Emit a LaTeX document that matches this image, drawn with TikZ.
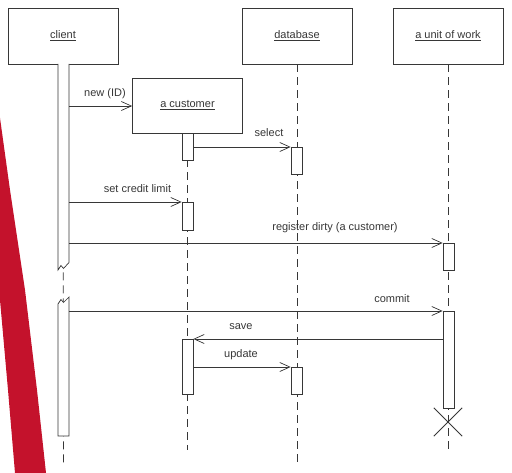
\documentclass[tikz,border=0pt]{standalone}
\usepackage{fontspec}
\setmainfont{Liberation Sans}
\usetikzlibrary{arrows.meta}
\definecolor{ribbon}{RGB}{196,18,44}
\definecolor{inkc}{RGB}{55,55,55}
\begin{document}
\begin{tikzpicture}[x=1pt,y=-1pt,
  ink/.style={draw=inkc, line width=0.7pt},
  objbox/.style={ink, fill=white, minimum width=110pt, minimum height=56pt, inner sep=0pt,
    font=\fontsize{11}{13}\selectfont, text=inkc},
  actbar/.style={ink, fill=white, minimum width=11pt, inner sep=0pt, anchor=north},
  lifeline/.style={draw=inkc, line width=0.7pt, dash pattern=on 8pt off 5pt},
  msg/.style={ink, -{Straight Barb[length=10pt,width=9pt]}},
  lbl/.style={font=\fontsize{11}{13}\selectfont, text=inkc, inner sep=0pt, anchor=base},
]
\useasboundingbox (0,0) rectangle (512,473);
% red ribbon (scan artefact)
\fill[ribbon] (0,118) -- (10,190) -- (25,290) -- (37,390) -- (46,473) -- (15,473) -- (8,390) -- (0,300) -- cycle;

% object boxes
\node[objbox] (client) at (63,36) {\underline{client}};
\node[objbox] (db) at (297,36) {\underline{database}};
\node[objbox] (uow) at (448,36) {\underline{a unit of work}};
\node[objbox, minimum height=55pt] (cust) at (187.5,105.5) {\underline{a customer}};

% lifeline ends
\coordinate (clientend) at (63.5,463);
\coordinate (custend) at (187.5,450);
\coordinate (dbend) at (297,463);
\coordinate (uowend) at (448,450);

% lifelines
\draw[lifeline] (client.south) -- (clientend);
\draw[lifeline, line width=1.3pt] (cust.south) -- (custend);
\draw[lifeline] (db.south) -- (dbend);
\draw[lifeline] (uow.south) -- (uowend);

% client activation bars (with break marks)
\filldraw[ink, fill=white] (58,64) -- (58,270) -- (61,265.5) -- (63.5,268.5) -- (69,262.5) -- (69,64);
\filldraw[ink, fill=white] (58,436) -- (58,304) -- (61,299.5) -- (63.5,302.5) -- (69,297) -- (69,436) -- cycle;
\coordinate (cb) at (69,0);

% other activation bars
\node[actbar, minimum height=27pt] (cA1) at (187.5,133) {};
\node[actbar, minimum height=28pt] (cA2) at (187.5,202) {};
\node[actbar, minimum height=55pt] (cA3) at (187.5,339) {};
\node[actbar, minimum height=27pt] (dA1) at (296.5,147) {};
\node[actbar, minimum height=27pt] (dA2) at (296.5,367) {};
\node[actbar, minimum height=27pt] (uA1) at (448.5,243) {};
\node[actbar, minimum height=97pt] (uA2) at (448.5,311) {};

% destruction mark
\node[minimum size=28pt, inner sep=0pt] (xmark) at (448,422) {};
\draw[ink, line width=0.9pt] (xmark.north west) -- (xmark.south east);
\draw[ink, line width=0.9pt] (xmark.north east) -- (xmark.south west);

% message heights
\coordinate (y1) at (0,106);
\coordinate (y2) at (0,147);
\coordinate (y3) at (0,202);
\coordinate (y4) at (0,243);
\coordinate (y5) at (0,311);
\coordinate (y6) at (0,339);
\coordinate (y7) at (0,367);

% messages
\draw[msg] (cb |- y1) -- (cust.west |- y1);
\draw[msg] (cA1.east |- y2) -- (dA1.west |- y2);
\draw[msg] (cb |- y3) -- (cA2.west |- y3);
\draw[msg] (cb |- y4) -- (uA1.west |- y4);
\draw[msg] (cb |- y5) -- (uA2.west |- y5);
\draw[msg] (uA2.west |- y6) -- (cA3.east |- y6);
\draw[msg] (cA3.east |- y7) -- (dA2.west |- y7);

% labels
\node[lbl] (l1) at (105,97) {new (ID)};
\node[lbl] (l2) at (269,137) {select};
\node[lbl] (l3) at (137.5,193) {set credit limit};
\node[lbl] (l4) at (335,231) {register dirty (a customer)};
\node[lbl] (l5) at (392,302.5) {commit};
\node[lbl] (l6) at (241,330) {save};
\node[lbl] (l7) at (241,358) {update};
\end{tikzpicture}
\end{document}
